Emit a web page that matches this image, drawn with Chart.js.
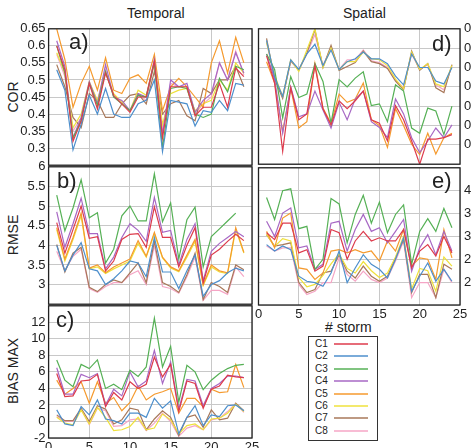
<!DOCTYPE html>
<html>
<head>
<meta charset="utf-8">
<script src="https://cdn.jsdelivr.net/npm/chart.js@4.4.1/dist/chart.umd.min.js"></script>
<style>
  html, body { margin: 0; padding: 0; background: #fff; }
  body { width: 471px; height: 448px; overflow: hidden; position: relative;
         font-family: "Liberation Sans", Arial, sans-serif; color: #222; }
  canvas { position: absolute; }
  .t { position: absolute; white-space: nowrap; line-height: 1; }
  .rot { transform: translate(-50%, -50%) rotate(-90deg); font-size: 14px; }
  .tag { font-size: 22px; }
  #legend { position: absolute; left: 308px; top: 336px; width: 68px; height: 103px;
            border: 1px solid #333; background: #fff; }
  #legend div { position: absolute; left: 6px; font-size: 10px; line-height: 1; }
  #legend span { position: absolute; left: 19px; top: 4px; width: 34px; height: 2px; opacity: 0.75; }
</style>
</head>
<body>
<div class="t" style="left:127px;top:6px;font-size:14px;">Temporal</div>
<div class="t" style="left:343px;top:6px;font-size:14px;">Spatial</div>
<div class="t rot" style="left:13px;top:97px;">COR</div>
<div class="t rot" style="left:13px;top:235px;">RMSE</div>
<div class="t rot" style="left:13px;top:371px;">BIAS MAX</div>
<div class="t" style="left:325px;top:320px;font-size:14px;"># storm</div>
<div id="legend"></div>

<script>
"use strict";
// storms on the x axis
const STORMS = [1,2,3,4,5,6,7,8,9,10,11,12,13,14,15,16,17,18,19,20,21,22,23,24];
const NAMES = ["C1","C2","C3","C4","C5","C6","C7","C8"];
const COLORS = ["#dd3b4c","#4d8fcc","#55b055","#a768c4","#f59a2e","#efe13c","#a8785a","#f5a5c5"];

// a) COR, temporal
const corT_C1 = [0.60,0.53,0.32,0.38,0.49,0.415,0.52,0.455,0.43,0.405,0.45,0.45,0.555,0.33,0.48,0.48,0.48,0.395,0.42,0.42,0.49,0.42,0.535,0.51];
const corT_C2 = [0.53,0.47,0.295,0.37,0.455,0.40,0.475,0.40,0.39,0.39,0.43,0.44,0.50,0.29,0.44,0.435,0.43,0.365,0.41,0.405,0.44,0.41,0.49,0.485];
const corT_C3 = [0.60,0.52,0.33,0.38,0.49,0.425,0.525,0.45,0.43,0.41,0.455,0.45,0.55,0.30,0.475,0.48,0.475,0.40,0.39,0.40,0.505,0.465,0.54,0.53];
const corT_C4 = [0.615,0.54,0.33,0.39,0.495,0.43,0.545,0.45,0.44,0.41,0.46,0.45,0.56,0.34,0.50,0.48,0.49,0.405,0.44,0.46,0.55,0.50,0.58,0.52];
const corT_C5 = [0.65,0.56,0.42,0.49,0.54,0.47,0.565,0.47,0.46,0.505,0.515,0.49,0.575,0.41,0.48,0.505,0.48,0.45,0.42,0.55,0.615,0.52,0.625,0.55];
const corT_C6 = [0.58,0.52,0.36,0.40,0.495,0.44,0.52,0.46,0.435,0.41,0.47,0.455,0.555,0.37,0.46,0.47,0.475,0.41,0.43,0.44,0.50,0.47,0.55,0.52];
const corT_C7 = [0.545,0.48,0.39,0.36,0.46,0.44,0.39,0.39,0.43,0.455,0.46,0.43,0.525,0.40,0.43,0.44,0.395,0.38,0.475,0.46,0.50,0.50,0.54,0.48];
const corT_C8 = [0.575,0.51,0.35,0.39,0.49,0.44,0.53,0.45,0.43,0.41,0.46,0.44,0.55,0.35,0.49,0.48,0.48,0.40,0.43,0.45,0.55,0.50,0.585,0.515];

// b) RMSE, temporal
const rmseT_C1 = [4.58,3.8,4.4,5.0,4.18,4.22,3.35,3.6,4.15,4.28,4.3,3.95,4.98,4.2,4.2,3.45,4.0,4.45,3.05,3.75,3.9,4.1,4.28,4.12];
const rmseT_C2 = [4.0,3.35,3.75,4.07,3.4,3.35,3.0,3.15,3.35,3.6,3.55,3.2,4.2,3.32,3.32,2.9,3.35,3.75,2.7,3.0,3.1,3.3,3.42,3.35];
const rmseT_C3 = [5.28,4.37,4.95,5.67,4.7,4.83,3.55,3.9,4.75,5.0,4.62,4.62,5.82,4.6,5.08,3.65,4.65,4.97,3.45,4.22,4.42,4.62,4.82,null];
const rmseT_C4 = [4.85,3.95,4.55,5.2,4.3,4.3,3.4,3.7,4.2,4.55,4.38,4.1,5.22,4.33,4.38,3.5,4.15,4.55,3.1,3.85,4.05,4.2,4.35,4.22];
const rmseT_C5 = [4.45,3.65,4.2,4.82,3.42,3.5,3.3,3.45,3.55,3.65,4.12,3.72,4.33,3.7,3.45,3.35,3.75,4.15,3.0,3.5,3.35,3.3,4.45,3.82];
const rmseT_C6 = [4.4,3.6,4.15,4.75,3.4,3.45,3.28,3.4,3.5,3.6,4.05,3.7,4.3,3.68,3.42,3.33,3.7,4.1,2.98,3.45,3.32,3.28,4.4,3.8];
const rmseT_C7 = [4.02,3.32,3.8,3.95,2.93,2.82,3.0,3.12,3.05,3.3,3.55,3.05,4.1,3.05,2.95,2.8,3.25,3.8,2.62,3.05,2.95,2.8,3.5,3.38];
const rmseT_C8 = [3.85,3.35,3.72,3.9,2.9,2.8,2.95,3.05,3.05,3.25,3.35,3.0,4.0,2.95,2.9,2.78,3.2,3.7,2.6,2.85,2.85,2.75,3.45,3.2];

// c) BIAS MAX, temporal
const biasT_C1 = [5.8,3.0,3.1,4.9,5.0,5.7,1.8,3.5,2.6,4.8,4.0,4.5,7.8,5.4,6.9,1.2,4.9,4.6,1.6,3.9,4.3,5.6,5.4,5.3];
const biasT_C2 = [1.4,-0.3,-0.5,1.8,0.8,2.6,0.3,0.1,-0.3,1.0,1.0,0.5,2.8,1.6,2.5,-1.5,0.5,1.9,-0.5,0.8,0.6,1.9,2.0,1.3];
const biasT_C3 = [7.45,5.0,4.2,6.9,6.4,7.45,4.0,4.5,3.85,6.2,5.45,6.6,12.5,6.6,9.1,2.35,6.8,6.0,3.85,5.0,5.8,6.4,6.8,6.9];
const biasT_C4 = [6.5,3.3,3.3,5.7,5.3,5.8,2.0,3.9,3.1,6.0,4.2,4.9,8.6,4.6,7.2,1.5,5.1,4.9,1.9,4.0,4.6,5.5,5.5,5.3];
const biasT_C5 = [5.0,3.3,4.0,4.8,2.2,4.8,2.2,2.9,1.3,2.3,4.3,2.6,3.3,3.6,4.0,1.0,2.8,2.8,1.8,3.9,3.5,3.6,6.9,4.1];
const biasT_C6 = [0.5,-0.2,-0.4,1.4,-0.3,1.7,0.5,-1.1,-1.0,-0.6,0.5,-1.0,-0.8,0.9,0.2,-1.5,-0.5,-0.3,-1.0,0.3,0.4,1.0,2.1,1.2];
const biasT_C7 = [0.8,0.1,0.1,1.6,0.0,1.9,1.5,-0.3,0.2,1.6,1.4,-1.0,0.3,1.3,0.5,-1.7,0.5,0.8,-0.7,1.4,0.2,0.4,2.2,1.3];
const biasT_C8 = [0.6,0.0,0.0,1.5,-0.4,1.6,1.3,-0.6,-0.5,0.2,0.3,-1.1,-0.2,1.0,0.0,-1.8,-0.8,-0.5,-1.0,0.2,0.4,1.2,2.2,1.1];

// d) COR, spatial
const corS_C1 = [0.76,0.62,0.267,0.595,0.43,0.46,0.71,0.487,0.403,0.528,0.487,0.528,0.578,0.43,0.412,0.32,0.503,0.43,0.32,0.20,0.33,0.33,0.337,0.353];
const corS_C2 = [0.84,0.65,0.55,0.74,0.69,0.77,0.82,0.71,0.79,0.69,0.73,0.745,0.78,0.745,0.745,0.72,0.655,0.61,0.77,0.70,0.70,0.63,0.615,0.70];
const corS_C3 = [0.77,0.69,0.44,0.653,0.545,0.562,0.72,0.628,0.412,0.637,0.60,0.645,0.678,0.503,0.512,0.42,0.61,0.578,0.387,0.36,0.49,0.475,0.353,0.50];
const corS_C4 = [0.77,0.64,0.36,0.60,0.445,0.46,0.578,0.48,0.387,0.52,0.43,0.537,0.578,0.42,0.39,0.337,0.537,0.46,0.337,0.26,0.32,0.387,0.337,0.403];
const corS_C5 = [0.73,0.62,0.37,0.595,0.387,0.42,0.72,0.49,0.41,0.562,0.52,0.537,0.62,0.43,0.40,0.287,0.487,0.40,0.303,0.25,0.36,0.253,0.337,0.36];
const corS_C6 = [0.83,0.66,0.55,0.74,0.68,0.79,0.90,0.70,0.80,0.69,0.73,0.73,0.78,0.745,0.74,0.71,0.64,0.59,0.78,0.69,0.72,0.615,0.60,0.71];
const corS_C7 = [0.85,0.64,0.54,0.735,0.685,0.775,0.895,0.70,0.815,0.685,0.705,0.725,0.785,0.73,0.72,0.695,0.63,0.585,0.785,0.685,0.72,0.595,0.57,0.715];
const corS_C8 = [0.83,0.645,0.55,0.73,0.69,0.77,0.87,0.71,0.80,0.69,0.74,0.74,0.79,0.735,0.725,0.70,0.635,0.595,0.77,0.69,0.715,0.61,0.585,0.71];

// e) RMSE, spatial
const rmseS_C1 = [3.08,2.93,3.29,3.29,2.64,2.71,2.24,2.35,3.15,3.08,2.5,2.9,3.11,2.9,2.97,2.9,2.9,3.15,2.31,2.68,2.82,2.57,3.0,2.64];
const rmseS_C2 = [2.82,2.68,2.79,2.71,2.13,2.02,1.99,1.91,2.2,2.68,1.99,2.31,2.6,2.39,2.28,2.09,2.5,2.97,1.8,2.13,2.42,2.02,2.28,2.02];
const rmseS_C3 = [3.85,3.37,4.0,4.04,3.17,3.22,2.28,2.5,3.83,3.71,2.86,3.48,3.9,3.29,3.75,3.08,3.48,3.69,2.39,3.11,3.39,3.11,3.61,3.19];
const rmseS_C4 = [3.33,3.0,3.51,3.62,2.75,2.79,2.28,2.39,3.29,3.33,2.68,3.15,3.48,3.11,3.19,2.86,3.11,3.37,2.24,2.75,3.04,2.6,3.11,2.68];
const rmseS_C5 = [3.11,2.75,3.4,3.51,2.31,2.28,2.06,2.2,2.68,2.71,2.64,2.71,2.64,2.68,2.46,2.9,2.68,3.15,2.35,2.53,2.5,2.06,3.15,2.53];
const rmseS_C6 = [3.05,2.78,2.95,2.9,2.1,1.9,1.95,2.15,2.4,2.62,2.3,2.2,2.45,2.25,2.1,2.2,2.55,3.0,1.85,2.3,2.25,1.8,2.55,2.35];
const rmseS_C7 = [3.04,2.79,2.82,2.86,1.99,1.77,1.84,2.2,2.24,2.6,2.24,2.09,2.35,2.13,2.02,2.13,2.53,2.93,1.77,2.17,2.17,1.66,2.39,2.28];
const rmseS_C8 = [2.79,2.68,2.75,2.75,1.95,1.73,1.8,1.99,1.99,2.53,2.17,2.02,2.24,2.06,1.99,2.09,2.46,2.9,1.66,1.99,1.99,1.66,2.28,1.99];

// y-axis ranges (min, max, step) and ticks whose label is left off
const Y_A = [0.25, 0.65, 0.05], HIDE_A = [0.25];
const Y_B = [2.5, 6, 0.5], HIDE_B = [2.5];
const Y_C = [-2, 14, 2], HIDE_C = [14];
const Y_D = [0.2, 0.9, 0.1], HIDE_D = [0.2];
const Y_E = [1.5, 4.5, 0.5], HIDE_E = [1.5, 4.5];

// --- layout ---------------------------------------------------------------
const FONT = "'Liberation Sans', Arial, sans-serif";
const frame = {
  id: "frame",
  afterDraw(chart) {
    const { ctx, chartArea: a } = chart;
    ctx.save();
    ctx.strokeStyle = "#222";
    ctx.lineWidth = 1.3;
    ctx.strokeRect(a.left, a.top, a.right - a.left, a.bottom - a.top);
    ctx.restore();
  },
};

// box: canvas placement; area: wanted plot area in page px
const PANELS = [
  { series: [corT_C1,corT_C2,corT_C3,corT_C4,corT_C5,corT_C6,corT_C7,corT_C8], y: Y_A, hide: HIDE_A, tag: "a)",
    box: [0, 18, 262, 158], area: [48.6, 252, 28, 166], side: "left", xlab: false, tagAt: [69, 31] },
  { series: [rmseT_C1,rmseT_C2,rmseT_C3,rmseT_C4,rmseT_C5,rmseT_C6,rmseT_C7,rmseT_C8], y: Y_B, hide: HIDE_B, tag: "b)",
    box: [0, 156, 262, 159], area: [48.6, 252, 166, 305], side: "left", xlab: false, tagAt: [57, 170] },
  { series: [biasT_C1,biasT_C2,biasT_C3,biasT_C4,biasT_C5,biasT_C6,biasT_C7,biasT_C8], y: Y_C, hide: HIDE_C, tag: "c)",
    box: [0, 295, 262, 158], area: [48.6, 252, 305, 438], side: "left", xlab: true, tagAt: [56, 309] },
  { series: [corS_C1,corS_C2,corS_C3,corS_C4,corS_C5,corS_C6,corS_C7,corS_C8], y: Y_D, hide: HIDE_D, tag: "d)",
    box: [248, 17, 250, 159], area: [258.5, 460, 27, 166], side: "right", xlab: false, tagAt: [432, 33] },
  { series: [rmseS_C1,rmseS_C2,rmseS_C3,rmseS_C4,rmseS_C5,rmseS_C6,rmseS_C7,rmseS_C8], y: Y_E, hide: HIDE_E, tag: "e)",
    box: [248, 156, 250, 164], area: [258.5, 460, 166, 305], side: "right", xlab: true, tagAt: [432, 170] },
];

const fmt = (v) => String(+v.toFixed(2));

for (const p of PANELS) {
  const [bl, bt, bw, bh] = p.box;
  const [al, ar, at, ab] = p.area;
  const cv = document.createElement("canvas");
  cv.width = bw; cv.height = bh;
  cv.style.left = bl + "px"; cv.style.top = bt + "px";
  document.body.appendChild(cv);

  const xH = p.xlab ? 14 : 0;
  const yW = p.side === "left" ? al - bl : bl + bw - ar;
  const pad = {
    left: p.side === "left" ? 0 : al - bl,
    right: p.side === "left" ? bl + bw - ar : 0,
    top: at - bt,
    bottom: bt + bh - ab - xH,
  };

  new Chart(cv, {
    type: "line",
    data: {
      datasets: p.series.map((vals, i) => ({
        label: NAMES[i],
        data: STORMS.map((s, j) => ({ x: s, y: vals[j] })),
        borderColor: COLORS[i], backgroundColor: COLORS[i],
        borderWidth: 1.2, pointRadius: 0, tension: 0, spanGaps: false,
      })),
    },
    options: {
      responsive: false, animation: false, devicePixelRatio: 1,
      layout: { padding: pad },
      plugins: { legend: { display: false }, tooltip: { enabled: false } },
      scales: {
        x: {
          type: "linear", min: 0, max: 25,
          border: { display: false },
          grid: { color: "#c8c8c8", drawTicks: false },
          ticks: { display: p.xlab, stepSize: 5, maxRotation: 0, padding: 2, color: "#222",
                   font: { family: FONT, size: 13 } },
          afterFit: (s) => { s.height = xH; },
        },
        y: {
          position: p.side, min: p.y[0], max: p.y[1],
          border: { display: false },
          grid: { color: "#c8c8c8", drawTicks: false },
          ticks: {
            stepSize: p.y[2], autoSkip: false, padding: p.side === "left" ? 3 : 4, color: "#222",
            font: { family: FONT, size: 13 },
            callback: (v) => p.hide.some(h => Math.abs(h - v) < 1e-6) ? "" : fmt(v),
          },
          afterFit: (s) => { s.width = yW; },
        },
      },
    },
    plugins: [frame],
  });

  const tg = document.createElement("div");
  tg.className = "t tag";
  tg.textContent = p.tag;
  tg.style.left = p.tagAt[0] + "px"; tg.style.top = p.tagAt[1] + "px";
  document.body.appendChild(tg);
}

// legend box
const lg = document.getElementById("legend");
NAMES.forEach((n, i) => {
  const row = document.createElement("div");
  row.style.top = Math.round(2 + i * 12.4) + "px";
  row.textContent = n;
  const ln = document.createElement("span");
  ln.style.background = COLORS[i];
  row.appendChild(ln);
  lg.appendChild(row);
});
</script>
</body>
</html>
